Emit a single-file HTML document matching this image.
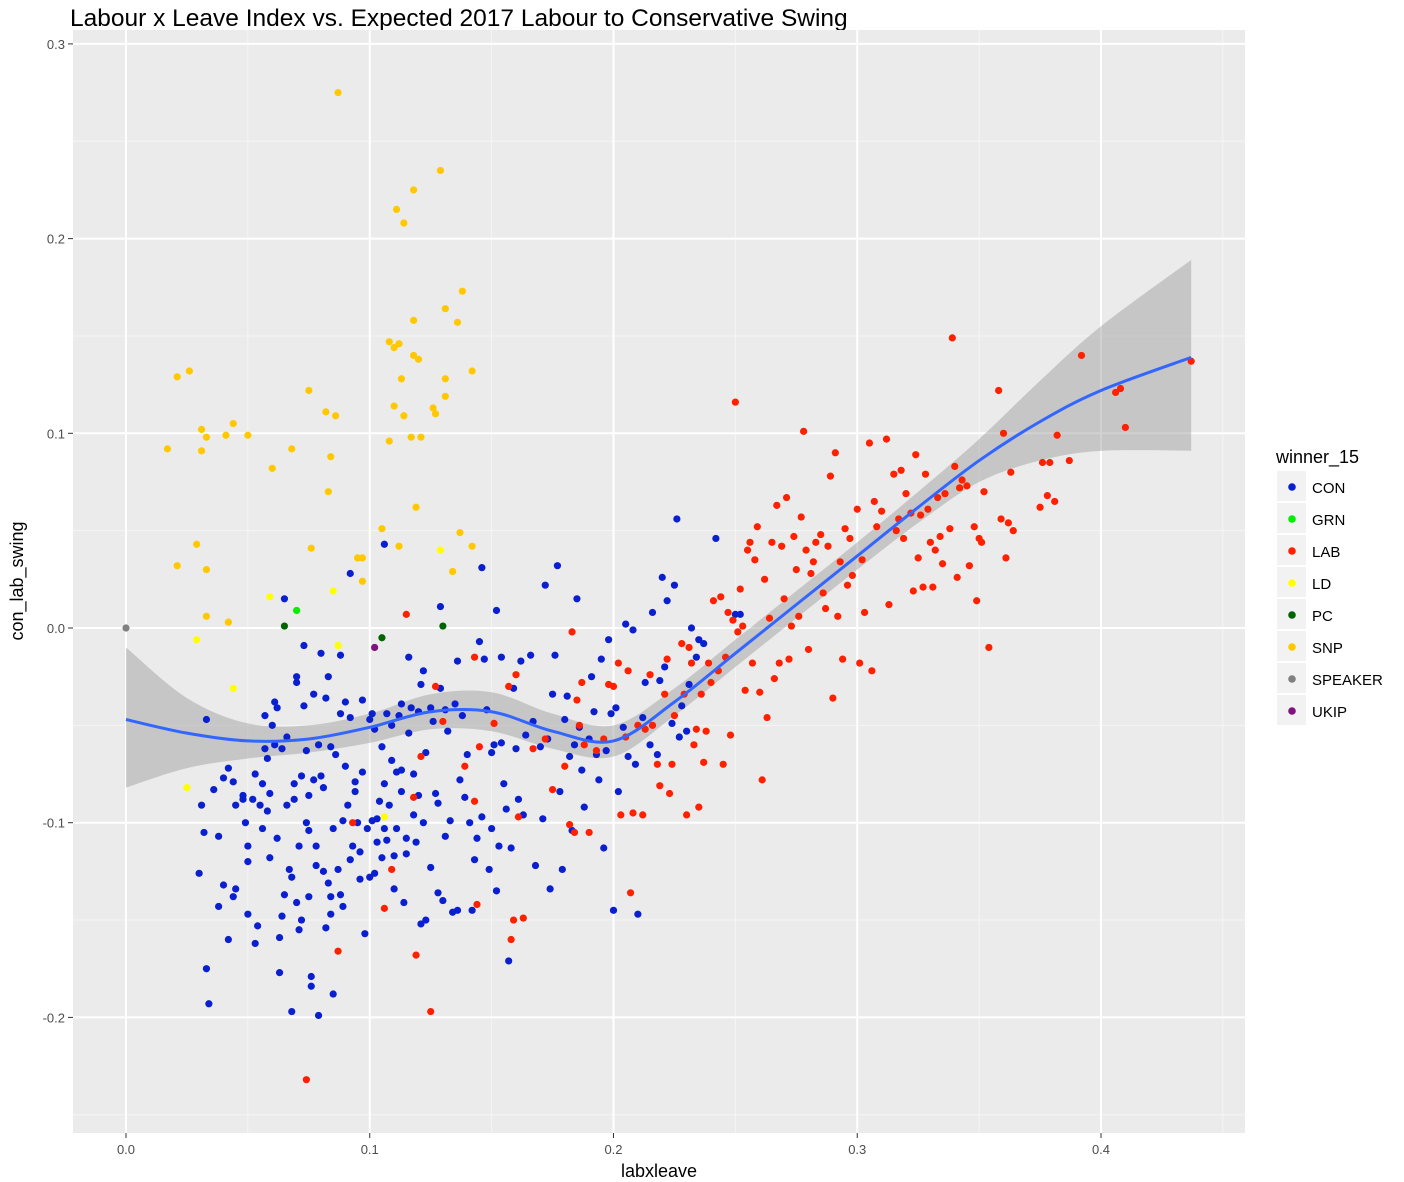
<!DOCTYPE html>
<html><head><meta charset="utf-8"><style>
body{margin:0;background:#fff;font-family:"Liberation Sans",sans-serif}
svg{display:block}
</style></head><body>
<svg id="chart" width="1404" height="1182" xmlns="http://www.w3.org/2000/svg">
<text x="70" y="26" font-size="24.5" fill="#000">Labour x Leave Index vs. Expected 2017 Labour to Conservative Swing</text>
<rect x="73" y="30" width="1172" height="1103" fill="#ebebeb"/>
<g id="grid"></g><g id="ribbon"></g><g id="pts"></g><g id="axes"></g>
<text x="659" y="1177" font-size="18" text-anchor="middle">labxleave</text>
<text transform="translate(23,581) rotate(-90)" font-size="18" text-anchor="middle">con_lab_swing</text>
<g id="legend"><text x="1276" y="463" font-size="18">winner_15</text></g>
</svg>
<script>
const xTicks=[0,0.1,0.2,0.3,0.4];
const xTickLabels=["0.0","0.1","0.2","0.3","0.4"];
const yTicks=[0.3,0.2,0.1,0,-0.1,-0.2];
const yTickLabels=["0.3","0.2","0.1","0.0","-0.1","-0.2"];
const xMinor=[0.05,0.15,0.25,0.35,0.45];
const yMinor=[0.25,0.15,0.05,-0.05,-0.15,-0.25];
const parties=["CON","GRN","LAB","LD","PC","SNP","SPEAKER","UKIP"];
const partyColors=["#0a1fd0","#00f000","#ff2000","#ffff00","#006400","#ffc800","#808080","#7f127f"];
const SNP=[[0.017,0.092],[0.021,0.129],[0.026,0.132],[0.031,0.102],[0.033,0.098],[0.031,0.091],[0.041,0.099],[0.044,0.105],[0.050,0.099],[0.029,0.043],[0.021,0.032],[0.033,0.030],[0.033,0.006],[0.042,0.003],[0.060,0.082],[0.068,0.092],[0.087,0.275],[0.075,0.122],[0.082,0.111],[0.086,0.109],[0.084,0.088],[0.083,0.070],[0.076,0.041],[0.095,0.036],[0.097,0.036],[0.097,0.024],[0.111,0.215],[0.114,0.208],[0.118,0.225],[0.129,0.235],[0.138,0.173],[0.131,0.164],[0.136,0.157],[0.118,0.158],[0.108,0.147],[0.112,0.146],[0.110,0.144],[0.118,0.140],[0.120,0.138],[0.142,0.132],[0.131,0.128],[0.113,0.128],[0.131,0.119],[0.110,0.114],[0.126,0.113],[0.114,0.109],[0.127,0.110],[0.117,0.098],[0.121,0.098],[0.108,0.096],[0.119,0.062],[0.105,0.051],[0.112,0.042],[0.137,0.049],[0.142,0.042],[0.134,0.029]];
const LD=[[0.029,-0.006],[0.025,-0.082],[0.044,-0.031],[0.059,0.016],[0.085,0.019],[0.087,-0.009],[0.106,-0.097],[0.129,0.040]];
const GRN=[[0.070,0.009]];
const PC=[[0.065,0.001],[0.105,-0.005],[0.130,0.001]];
const SPEAKER=[[0,0]];
const UKIP=[[0.102,-0.010]];
const CON=[[0.033,-0.047],[0.036,-0.083],[0.038,-0.107],[0.040,-0.077],[0.042,-0.072],[0.044,-0.079],[0.031,-0.091],[0.032,-0.105],[0.030,-0.126],[0.033,-0.175],[0.034,-0.193],[0.038,-0.143],[0.040,-0.132],[0.042,-0.160],[0.044,-0.138],[0.045,-0.134],[0.045,-0.091],[0.048,-0.088],[0.048,-0.086],[0.049,-0.100],[0.050,-0.112],[0.050,-0.120],[0.050,-0.147],[0.052,-0.088],[0.053,-0.075],[0.053,-0.162],[0.054,-0.153],[0.055,-0.091],[0.056,-0.103],[0.056,-0.080],[0.057,-0.062],[0.057,-0.045],[0.058,-0.067],[0.058,-0.094],[0.059,-0.085],[0.059,-0.118],[0.060,-0.050],[0.061,-0.060],[0.061,-0.038],[0.062,-0.041],[0.062,-0.108],[0.063,-0.177],[0.063,-0.159],[0.064,-0.062],[0.064,-0.148],[0.065,-0.137],[0.065,0.015],[0.066,-0.091],[0.066,-0.056],[0.067,-0.124],[0.068,-0.197],[0.068,-0.128],[0.069,-0.080],[0.069,-0.088],[0.070,-0.028],[0.070,-0.025],[0.070,-0.141],[0.071,-0.155],[0.071,-0.112],[0.072,-0.076],[0.072,-0.150],[0.073,-0.009],[0.073,-0.040],[0.074,-0.063],[0.074,-0.100],[0.075,-0.104],[0.075,-0.138],[0.075,-0.086],[0.076,-0.184],[0.076,-0.179],[0.077,-0.034],[0.077,-0.078],[0.078,-0.112],[0.078,-0.122],[0.079,-0.199],[0.079,-0.060],[0.080,-0.013],[0.080,-0.076],[0.081,-0.082],[0.081,-0.125],[0.082,-0.154],[0.082,-0.036],[0.083,-0.025],[0.083,-0.131],[0.084,-0.138],[0.084,-0.147],[0.084,-0.061],[0.085,-0.188],[0.085,-0.103],[0.086,-0.065],[0.087,-0.124],[0.088,-0.044],[0.088,-0.014],[0.088,-0.137],[0.089,-0.143],[0.089,-0.099],[0.090,-0.038],[0.090,-0.071],[0.091,-0.091],[0.092,0.028],[0.092,-0.046],[0.092,-0.119],[0.093,-0.112],[0.094,-0.084],[0.094,-0.079],[0.095,-0.100],[0.096,-0.129],[0.096,-0.115],[0.097,-0.074],[0.097,-0.037],[0.098,-0.157],[0.099,-0.103],[0.100,-0.128],[0.100,-0.047],[0.101,-0.099],[0.101,-0.044],[0.102,-0.126],[0.102,-0.052],[0.103,-0.098],[0.103,-0.110],[0.104,-0.089],[0.105,-0.118],[0.105,-0.061],[0.106,0.043],[0.106,-0.080],[0.106,-0.103],[0.107,-0.109],[0.107,-0.044],[0.108,-0.091],[0.109,-0.068],[0.109,-0.050],[0.110,-0.117],[0.110,-0.134],[0.111,-0.074],[0.111,-0.103],[0.112,-0.045],[0.113,-0.084],[0.113,-0.073],[0.113,-0.039],[0.114,-0.141],[0.115,-0.116],[0.115,-0.108],[0.116,-0.015],[0.116,-0.054],[0.117,-0.041],[0.118,-0.096],[0.118,-0.075],[0.119,-0.110],[0.120,-0.043],[0.120,-0.086],[0.121,-0.152],[0.121,-0.029],[0.122,-0.022],[0.122,-0.100],[0.123,-0.150],[0.123,-0.064],[0.125,-0.123],[0.125,-0.041],[0.126,-0.048],[0.127,-0.085],[0.128,-0.090],[0.128,-0.136],[0.129,-0.031],[0.129,0.011],[0.130,-0.140],[0.131,-0.042],[0.131,-0.107],[0.132,-0.053],[0.133,-0.099],[0.134,-0.146],[0.135,-0.039],[0.136,-0.145],[0.136,-0.017],[0.137,-0.078],[0.138,-0.045],[0.139,-0.087],[0.140,-0.065],[0.141,-0.100],[0.142,-0.145],[0.143,-0.119],[0.144,-0.108],[0.145,-0.007],[0.146,-0.097],[0.146,0.031],[0.147,-0.016],[0.148,-0.042],[0.149,-0.124],[0.150,-0.103],[0.150,-0.064],[0.151,-0.060],[0.152,0.009],[0.152,-0.135],[0.153,-0.112],[0.154,-0.015],[0.154,-0.059],[0.155,-0.080],[0.156,-0.093],[0.157,-0.171],[0.158,-0.113],[0.159,-0.031],[0.160,-0.062],[0.161,-0.088],[0.162,-0.017],[0.163,-0.096],[0.164,-0.055],[0.166,-0.014],[0.167,-0.048],[0.168,-0.122],[0.170,-0.061],[0.171,-0.098],[0.172,0.022],[0.173,-0.057],[0.174,-0.134],[0.175,-0.034],[0.176,-0.014],[0.177,0.032],[0.178,-0.084],[0.179,-0.124],[0.180,-0.047],[0.181,-0.035],[0.182,-0.066],[0.183,-0.104],[0.184,-0.060],[0.185,0.015],[0.186,-0.051],[0.187,-0.073],[0.188,-0.092],[0.190,-0.057],[0.191,-0.025],[0.192,-0.043],[0.193,-0.065],[0.194,-0.078],[0.195,-0.016],[0.196,-0.113],[0.197,-0.063],[0.198,-0.006],[0.199,-0.044],[0.200,-0.145],[0.201,-0.041],[0.202,-0.084],[0.204,-0.051],[0.205,0.002],[0.206,-0.066],[0.208,-0.001],[0.209,-0.070],[0.210,-0.147],[0.212,-0.046],[0.213,-0.028],[0.215,-0.060],[0.216,0.008],[0.218,-0.065],[0.219,-0.027],[0.220,0.026],[0.221,-0.020],[0.222,0.014],[0.224,-0.049],[0.225,0.022],[0.226,0.056],[0.227,-0.056],[0.228,-0.040],[0.230,-0.053],[0.231,-0.029],[0.232,0.000],[0.234,-0.015],[0.235,-0.006],[0.237,-0.008],[0.242,0.046],[0.250,0.007],[0.252,0.007]];
const LAB=[[0.093,-0.100],[0.087,-0.166],[0.074,-0.232],[0.106,-0.144],[0.109,-0.124],[0.115,0.007],[0.118,-0.087],[0.119,-0.168],[0.121,-0.066],[0.125,-0.197],[0.127,-0.030],[0.130,-0.048],[0.139,-0.071],[0.143,-0.015],[0.143,-0.089],[0.144,-0.142],[0.145,-0.061],[0.151,-0.049],[0.157,-0.030],[0.158,-0.160],[0.159,-0.150],[0.160,-0.024],[0.161,-0.097],[0.163,-0.149],[0.167,-0.062],[0.172,-0.057],[0.175,-0.083],[0.180,-0.071],[0.182,-0.101],[0.183,-0.002],[0.184,-0.105],[0.185,-0.037],[0.186,-0.050],[0.187,-0.028],[0.188,-0.060],[0.190,-0.105],[0.193,-0.063],[0.196,-0.057],[0.198,-0.029],[0.200,-0.030],[0.202,-0.018],[0.203,-0.096],[0.205,-0.056],[0.206,-0.022],[0.207,-0.136],[0.208,-0.095],[0.210,-0.050],[0.212,-0.096],[0.213,-0.052],[0.215,-0.024],[0.216,-0.050],[0.218,-0.070],[0.219,-0.081],[0.221,-0.034],[0.222,-0.016],[0.223,-0.085],[0.224,-0.070],[0.225,-0.045],[0.228,-0.008],[0.229,-0.034],[0.230,-0.096],[0.231,-0.010],[0.232,-0.018],[0.233,-0.060],[0.234,-0.052],[0.235,-0.092],[0.236,-0.034],[0.237,-0.069],[0.238,-0.053],[0.239,-0.018],[0.240,-0.028],[0.241,0.014],[0.243,-0.022],[0.244,0.016],[0.245,-0.070],[0.246,-0.015],[0.247,0.008],[0.248,-0.055],[0.249,0.004],[0.250,0.116],[0.251,-0.002],[0.252,0.020],[0.253,0.001],[0.254,-0.032],[0.255,0.040],[0.256,0.044],[0.257,-0.018],[0.258,0.035],[0.259,0.052],[0.260,-0.033],[0.261,-0.078],[0.262,0.025],[0.263,-0.046],[0.264,0.005],[0.265,0.044],[0.266,-0.026],[0.267,0.063],[0.268,-0.018],[0.269,0.042],[0.270,0.015],[0.271,0.067],[0.272,-0.016],[0.273,0.001],[0.274,0.047],[0.275,0.030],[0.276,0.006],[0.277,0.057],[0.278,0.101],[0.279,0.040],[0.280,-0.011],[0.281,0.028],[0.282,0.034],[0.283,0.044],[0.285,0.048],[0.286,0.018],[0.287,0.010],[0.288,0.042],[0.289,0.078],[0.290,-0.036],[0.291,0.090],[0.292,0.006],[0.293,0.034],[0.294,-0.016],[0.295,0.051],[0.296,0.022],[0.297,0.046],[0.298,0.027],[0.300,0.061],[0.301,-0.018],[0.302,0.035],[0.303,0.008],[0.305,0.095],[0.306,-0.022],[0.307,0.065],[0.308,0.052],[0.310,0.060],[0.312,0.097],[0.313,0.012],[0.315,0.079],[0.316,0.050],[0.317,0.056],[0.318,0.081],[0.319,0.046],[0.320,0.069],[0.322,0.059],[0.323,0.019],[0.324,0.089],[0.325,0.036],[0.326,0.058],[0.327,0.021],[0.328,0.079],[0.329,0.061],[0.330,0.044],[0.331,0.021],[0.332,0.040],[0.333,0.067],[0.334,0.047],[0.335,0.033],[0.336,0.069],[0.338,0.051],[0.339,0.149],[0.340,0.083],[0.341,0.026],[0.342,0.072],[0.343,0.076],[0.345,0.073],[0.346,0.032],[0.348,0.052],[0.349,0.014],[0.350,0.046],[0.351,0.044],[0.352,0.070],[0.354,-0.010],[0.358,0.122],[0.359,0.056],[0.360,0.100],[0.361,0.036],[0.362,0.054],[0.363,0.080],[0.364,0.050],[0.375,0.062],[0.376,0.085],[0.378,0.068],[0.379,0.085],[0.381,0.065],[0.382,0.099],[0.387,0.086],[0.392,0.140],[0.406,0.121],[0.408,0.123],[0.410,0.103],[0.437,0.137]];
const smoothX=[0,0.025,0.05,0.075,0.1,0.125,0.15,0.175,0.2,0.225,0.25,0.275,0.3,0.325,0.35,0.375,0.4,0.437];
const smoothFit=[-0.047,-0.054,-0.058,-0.057,-0.051,-0.043,-0.043,-0.053,-0.058,-0.038,-0.013,0.012,0.037,0.062,0.086,0.106,0.122,0.139];
const smoothLo=[-0.082,-0.072,-0.067,-0.064,-0.059,-0.052,-0.053,-0.062,-0.066,-0.045,-0.020,0.005,0.030,0.054,0.075,0.086,0.091,0.091];
const smoothHi=[-0.010,-0.036,-0.049,-0.050,-0.044,-0.034,-0.033,-0.044,-0.050,-0.031,-0.006,0.019,0.044,0.070,0.097,0.127,0.155,0.189];

const NS="http://www.w3.org/2000/svg";
const X=v=>126+v*2437.5, Y=v=>628-v*1947;
const PL=73,PR=1245,PT=30,PB=1133;
function mk(tag,attrs,parent){const e=document.createElementNS(NS,tag);for(const k in attrs)e.setAttribute(k,attrs[k]);parent.appendChild(e);return e;}
const grid=document.getElementById('grid'),axes=document.getElementById('axes');
xMinor.forEach(v=>{const l=mk('line',{x1:X(v),x2:X(v),y1:PT,y2:PB,stroke:'#f5f5f5','stroke-width':1},grid);});
yMinor.forEach(v=>{const l=mk('line',{x1:PL,x2:PR,y1:Y(v),y2:Y(v),stroke:'#f5f5f5','stroke-width':1},grid);});
xTicks.forEach((v,i)=>{const l=mk('line',{x1:X(v),x2:X(v),y1:PT,y2:PB,stroke:'#fff','stroke-width':2},grid);
 const t=mk('line',{x1:X(v),x2:X(v),y1:PB,y2:PB+5,stroke:'#333'},axes);
 const tx=mk('text',{x:X(v),y:PB+21,'font-size':13,'text-anchor':'middle',fill:'#4d4d4d'},axes);tx.textContent=xTickLabels[i];});
yTicks.forEach((v,i)=>{const l=mk('line',{x1:PL,x2:PR,y1:Y(v),y2:Y(v),stroke:'#fff','stroke-width':2},grid);
 const t=mk('line',{x1:PL-5,x2:PL,y1:Y(v),y2:Y(v),stroke:'#333'},axes);
 const tx=mk('text',{x:PL-8,y:Y(v)+5,'font-size':13,'text-anchor':'end',fill:'#4d4d4d'},axes);tx.textContent=yTickLabels[i];});
const pts=document.getElementById('pts');
const series={CON,GRN,LAB,LD,PC,SNP,SPEAKER,UKIP};
["CON","LAB","SNP","LD","GRN","PC","SPEAKER","UKIP"].forEach(p=>{const col=partyColors[parties.indexOf(p)];
 series[p].forEach(d=>{const c=mk('circle',{cx:X(d[0]),cy:Y(d[1]),r:3.6,fill:col},pts);});});
function spline(xs,ys){let s='';const P=xs.map((x,i)=>[X(x),Y(ys[i])]);
 for(let i=0;i<P.length-1;i++){const p0=P[Math.max(0,i-1)],p1=P[i],p2=P[i+1],p3=P[Math.min(P.length-1,i+2)];
  if(i===0)s+='M'+p1[0]+','+p1[1];
  s+=' C'+(p1[0]+(p2[0]-p0[0])/6)+','+(p1[1]+(p2[1]-p0[1])/6)+' '+(p2[0]-(p3[0]-p1[0])/6)+','+(p2[1]-(p3[1]-p1[1])/6)+' '+p2[0]+','+p2[1];}
 return s;}
const rib=document.getElementById('ribbon');
const hiPath=spline(smoothX,smoothHi);
const loRevX=smoothX.slice().reverse(),loRevY=smoothLo.slice().reverse();
const loPath=spline(loRevX,loRevY).replace(/^M/,' L');
const r=mk('path',{d:hiPath+loPath+' Z',fill:'#999','fill-opacity':0.45},rib);

const ln=mk('path',{d:spline(smoothX,smoothFit),fill:'none',stroke:'#3366ff','stroke-width':3},document.getElementById('chart'));

const leg=document.getElementById('legend');
parties.forEach((p,i)=>{const y=471+i*32;
 const b=mk('rect',{x:1277,y:y,width:29,height:30,fill:'#f2f2f2'},leg);
 const c=mk('circle',{cx:1292,cy:y+16,r:3.8,fill:partyColors[i]},leg);
 const t=mk('text',{x:1312,y:y+22,'font-size':15},leg);t.textContent=p;});
</script>
</body></html>
